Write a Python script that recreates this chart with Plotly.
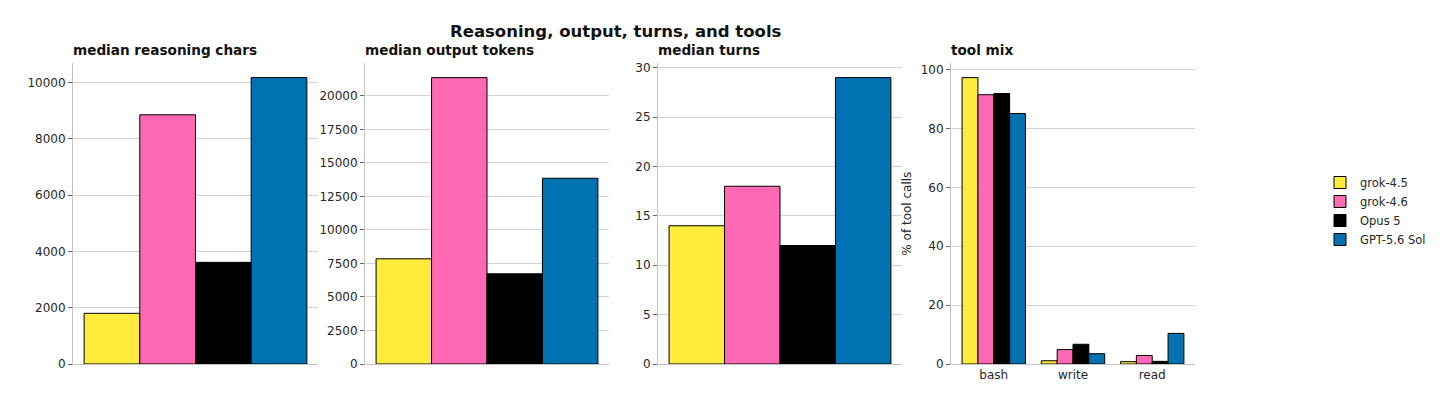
#!/usr/bin/env python3
# -*- coding: utf-8 -*-

import plotly.graph_objects as go

# Data
models = ["grok-4.5", "grok-4.6", "Opus 5", "GPT-5.6 Sol"]
colors = ["#ffeb3b", "#ff69b4", "#000000", "#0072b2"]

reasoning_chars = [1800, 8850, 3610, 10170]
output_tokens = [7850, 21370, 6730, 13860]
turns = [14, 18, 12, 29]

tools = ["bash", "write", "read"]
tool_mix = {
    "grok-4.5": [97.3, 1.1, 0.8],
    "grok-4.6": [91.5, 4.9, 2.9],
    "Opus 5": [91.9, 6.7, 0.9],
    "GPT-5.6 Sol": [85.1, 3.5, 10.4],
}

panel_titles = ["median reasoning chars", "median output tokens", "median turns", "tool mix"]

# page body has an 8px margin, so the figure is a bit smaller than the window
PAD = 8
W, H = 1456 - 2 * PAD, 405 - 2 * PAD
FONT = "DejaVu Sans"
GRID = "#d3d3d3"
SPINE = "#c4c4c4"
TEXT = "#262626"


def px(sx):
    return (sx - PAD) / W


def py(sy):
    return 1 - (sy - PAD) / H


# panel boxes in window pixels
x_domains = [(73, 318), (365, 609), (658, 902), (951, 1195)]
y_dom = [py(364), py(63.3)]

fig = go.Figure()

single_panels = [reasoning_chars, output_tokens, turns]
for p, values in enumerate(single_panels):
    ax = "" if p == 0 else str(p + 1)
    for i, m in enumerate(models):
        fig.add_trace(go.Bar(
            x=[i], y=[values[i]], width=1, offset=-0.5,
            marker=dict(color=colors[i], line=dict(color="#000000", width=1)),
            name=m, legendgroup=m, showlegend=False,
            xaxis="x" + ax, yaxis="y" + ax,
        ))

for i, m in enumerate(models):
    fig.add_trace(go.Bar(
        x=list(range(len(tools))), y=tool_mix[m], width=0.2, offset=-0.4 + 0.2 * i,
        marker=dict(color=colors[i], line=dict(color="#000000", width=1)),
        name=m, legendgroup=m, showlegend=True,
        xaxis="x4", yaxis="y4",
    ))

y_ranges = [max(reasoning_chars) * 1.05, max(output_tokens) * 1.05, max(turns) * 1.05,
            max(max(v) for v in tool_mix.values()) * 1.05]
dticks = [2000, 2500, 5, 20]

layout = dict(
    width=W, height=H,
    margin=dict(l=0, r=0, t=0, b=0),
    paper_bgcolor="white", plot_bgcolor="white",
    font=dict(family=FONT, size=12, color=TEXT),
    barmode="overlay",
    showlegend=True,
    legend=dict(x=px(1320), y=py(168), xanchor="left", yanchor="top",
                font=dict(size=11.5, color=TEXT), tracegroupgap=0,
                itemwidth=30, bgcolor="rgba(0,0,0,0)"),
)

annotations = [dict(
    text="<b>Reasoning, output, turns, and tools</b>", x=px(615.5), y=py(31),
    xref="paper", yref="paper", xanchor="center", yanchor="middle",
    showarrow=False, font=dict(size=16.5, color="#111111"),
)]

for p in range(4):
    ax = "" if p == 0 else str(p + 1)
    x0, x1 = x_domains[p]
    xaxis = dict(
        domain=[px(x0), px(x1)], anchor="y" + ax, automargin=False,
        showgrid=False, zeroline=False, showline=True, linecolor=SPINE, linewidth=1,
        fixedrange=True, ticks="",
    )
    if p < 3:
        xaxis.update(range=[-0.7, 3.7], showticklabels=False)
    else:
        xaxis.update(range=[-0.54, 2.54], tickvals=list(range(len(tools))), ticktext=tools,
                     tickfont=dict(size=12))
    yaxis = dict(
        domain=y_dom, anchor="x" + ax, automargin=False,
        range=[0, y_ranges[p]], dtick=dticks[p], tickformat="d",
        showgrid=True, gridcolor=GRID, gridwidth=1, zeroline=False,
        showline=True, linecolor=SPINE, linewidth=1,
        ticks="outside", ticklen=4, tickcolor="#666666", tickfont=dict(size=12),
        fixedrange=True,
    )
    if p == 3:
        yaxis.update(title=dict(text="% of tool calls", font=dict(size=12), standoff=6))
    layout["xaxis" + ax] = xaxis
    layout["yaxis" + ax] = yaxis
    annotations.append(dict(
        text="<b>" + panel_titles[p] + "</b>", x=px(x0), y=py(50), xshift=-2,
        xref="paper", yref="paper", xanchor="left", yanchor="middle",
        showarrow=False, font=dict(size=13.6, color="#111111"),
    ))

layout["annotations"] = annotations
fig.update_layout(**layout)

fig.write_html("out.html")
